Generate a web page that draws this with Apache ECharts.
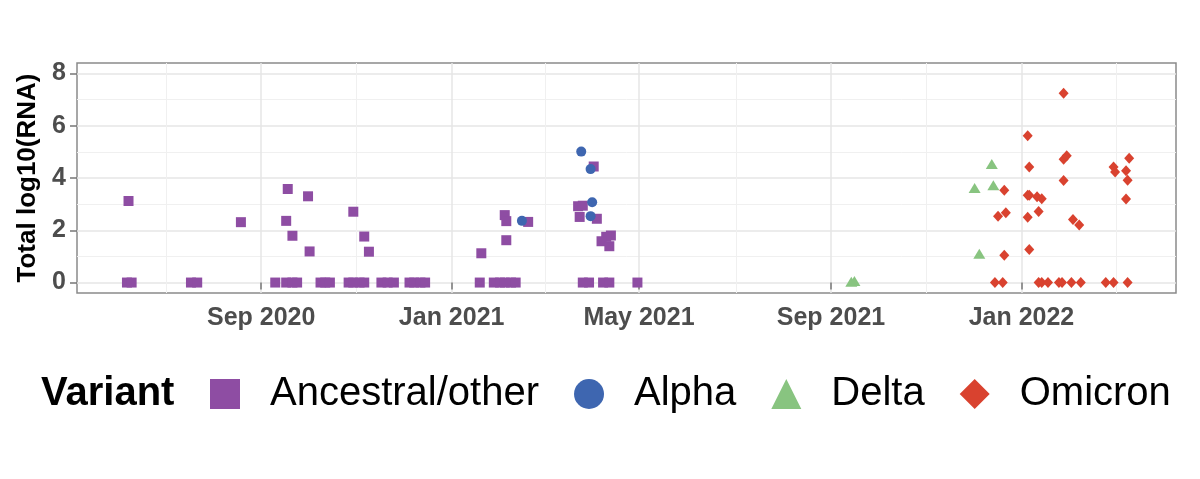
<!DOCTYPE html>
<html lang="en">

<head>
    <meta charset="UTF-8">
    <title>Total log10(RNA) by variant</title>
    <script src="https://cdn.jsdelivr.net/npm/echarts@6/dist/echarts.min.js"></script>
    <style>
        html, body { margin: 0; padding: 0; background: #fff; }
        #main { width: 1200px; height: 479px; }
    </style>
</head>

<body>
    <div id="main"></div>
    <script>
        // axis breaks (ggplot style: major + midpoint minor lines)
        const tickDates = ['2020-09-01', '2021-01-01', '2021-05-01', '2021-09-01', '2022-01-01'];
        const tickLabels = ['Sep 2020', 'Jan 2021', 'May 2021', 'Sep 2021', 'Jan 2022'];
        const minorDates = ['2020-07-02', '2020-11-01', '2021-03-02', '2021-07-02', '2021-11-01', '2022-03-03'];
        const xRange = ['2020-05-06', '2022-04-10'];
        const yTicks = [0, 2, 4, 6, 8];
        const yMinor = [1, 3, 5, 7];

        // Ancestral/other
        const ancestralDates = [
            '2020-06-07', '2020-06-10', '2020-07-18', '2020-07-22', '2020-09-10', '2020-09-17', '2020-09-21',
            '2020-09-24', '2020-10-09', '2020-10-12', '2020-10-15', '2020-10-27', '2020-10-30', '2020-11-03',
            '2020-11-06', '2020-11-17', '2020-11-21', '2020-11-25', '2020-12-05', '2020-12-08', '2020-12-12',
            '2020-12-15', '2021-01-19', '2021-01-28', '2021-02-01', '2021-02-04', '2021-02-08', '2021-02-11',
            '2021-03-26', '2021-03-30', '2021-04-08', '2021-04-12', '2021-04-30',
            '2020-06-08', '2020-08-19', '2020-09-18', '2020-09-17', '2020-09-21', '2020-10-01', '2020-10-02',
            '2020-10-30', '2020-11-06', '2020-11-09', '2021-01-20', '2021-02-04', '2021-02-05', '2021-02-05',
            '2021-02-19', '2021-03-23', '2021-03-26', '2021-03-24', '2021-04-02', '2021-04-04', '2021-04-13',
            '2021-04-10', '2021-04-07', '2021-04-12'
        ];
        const ancestralValues = [
            0, 0, 0, 0, 0, 0, 0,
            0, 0, 0, 0, 0, 0, 0,
            0, 0, 0, 0, 0, 0, 0,
            0, 0, 0, 0, 0, 0, 0,
            0, 0, 0, 0, 0,
            3.12, 2.31, 3.58, 2.36, 1.79, 3.30, 1.19,
            2.71, 1.76, 1.18, 1.12, 2.58, 2.35, 1.62,
            2.32, 2.92, 2.94, 2.51, 4.44, 2.44, 1.80,
            1.75, 1.58, 1.39
        ];

        // Alpha
        const alphaDates = ['2021-02-15', '2021-03-25', '2021-03-31', '2021-04-01', '2021-03-31'];
        const alphaValues = [2.36, 5.01, 4.34, 3.07, 2.54];

        // Delta
        const deltaDates = ['2021-09-14', '2021-09-16', '2021-12-02', '2021-12-05', '2021-12-13', '2021-12-14'];
        const deltaValues = [0.03, 0.06, 3.62, 1.10, 4.54, 3.72];

        // Omicron
        const omicronDates = [
            '2021-12-15', '2021-12-20', '2022-01-12', '2022-01-14', '2022-01-18', '2022-01-25', '2022-01-27',
            '2022-02-02', '2022-02-08', '2022-02-24', '2022-03-01', '2022-03-10',
            '2021-12-17', '2021-12-21', '2021-12-22', '2021-12-21', '2022-01-05', '2022-01-06', '2022-01-05',
            '2022-01-06', '2022-01-11', '2022-01-14', '2022-01-05', '2022-01-12', '2022-01-06', '2022-01-28',
            '2022-01-28', '2022-01-30', '2022-01-28', '2022-02-03', '2022-02-07', '2022-03-01', '2022-03-02',
            '2022-03-11', '2022-03-09', '2022-03-10', '2022-03-09'
        ];
        const omicronValues = [
            0, 0, 0, 0, 0, 0, 0,
            0, 0, 0, 0, 0,
            2.54, 3.53, 2.67, 1.04, 5.62, 4.42, 3.34,
            3.34, 3.28, 3.21, 2.50, 2.72, 1.26, 7.24,
            4.72, 4.85, 3.90, 2.41, 2.20, 4.42, 4.23,
            4.76, 4.28, 3.91, 3.20
        ];

        const FONT = 'Liberation Sans';
        // dates -> ms timestamps, the x axis is a plain value axis over time
        const ts = d => Date.parse(d + 'T00:00:00Z');
        const pairs = (dates, values) => dates.map((d, i) => [ts(d), values[i]]);
        const tickTimes = tickDates.map(ts);
        const minorTimes = minorDates.map(ts);
        const xMin = ts(xRange[0]);
        const xMax = ts(xRange[1]);

        const chart = echarts.init(document.getElementById('main'));

        const option = {
            animation: false,
            backgroundColor: '#fff',
            title: {
                text: 'Variant',
                left: 41,
                top: 374,
                padding: 0,
                textStyle: { fontFamily: FONT, fontSize: 40, fontWeight: 'bold', color: '#000', lineHeight: 40 }
            },
            legend: {
                left: 210,
                top: 374,
                padding: 0,
                itemWidth: 30,
                itemHeight: 30,
                itemGap: 35,
                textStyle: {
                    fontFamily: FONT,
                    fontSize: 40,
                    lineHeight: 40,
                    color: '#000',
                    padding: [0, 0, 0, 25]
                },
                data: [
                    { name: 'Ancestral/other', icon: 'rect' },
                    { name: 'Alpha', icon: 'circle' },
                    { name: 'Delta', icon: 'triangle' },
                    { name: 'Omicron', icon: 'diamond' }
                ]
            },
            grid: {
                left: 77,
                right: 24,
                top: 63,
                bottom: 186,
                show: true,
                borderColor: '#8a8a8a',
                borderWidth: 1.5
            },
            xAxis: [{
                type: 'value',
                min: xMin,
                max: xMax,
                axisLine: { show: false },
                axisTick: {
                    show: true,
                    customValues: tickTimes,
                    length: 7,
                    lineStyle: { color: '#777', width: 1.5 }
                },
                axisLabel: {
                    customValues: tickTimes,
                    margin: 13,
                    fontFamily: FONT,
                    fontSize: 25,
                    fontWeight: 'bold',
                    color: '#4d4d4d',
                    formatter: function (v) {
                        const i = tickTimes.findIndex(t => Math.abs(t - v) < 43200000);
                        return i >= 0 ? tickLabels[i] : '';
                    }
                },
                splitLine: { show: true, lineStyle: { color: '#e6e6e6', width: 1.5 } }
            }, {
                type: 'value',
                position: 'top',
                min: xMin,
                max: xMax,
                axisLine: { show: false },
                axisTick: { show: false, customValues: minorTimes },
                axisLabel: { show: false, customValues: minorTimes },
                splitLine: { show: true, lineStyle: { color: '#f0f0f0', width: 1 } }
            }],
            yAxis: [{
                type: 'value',
                min: -0.4,
                max: 8.4,
                name: 'Total log10(RNA)',
                nameLocation: 'middle',
                nameGap: 31,
                nameTextStyle: { fontFamily: FONT, fontSize: 26, fontWeight: 'bold', color: '#000' },
                axisLine: { show: false },
                axisTick: {
                    show: true,
                    customValues: yTicks,
                    length: 7,
                    lineStyle: { color: '#777', width: 1.5 }
                },
                axisLabel: {
                    customValues: yTicks,
                    margin: 11,
                    fontFamily: FONT,
                    fontSize: 25,
                    fontWeight: 'bold',
                    color: '#4d4d4d'
                },
                splitLine: { show: true, lineStyle: { color: '#e6e6e6', width: 1.5 } }
            }, {
                type: 'value',
                position: 'right',
                min: -0.4,
                max: 8.4,
                axisLine: { show: false },
                axisTick: { show: false, customValues: yMinor },
                axisLabel: { show: false, customValues: yMinor },
                splitLine: { show: true, lineStyle: { color: '#f0f0f0', width: 1 } }
            }],
            series: [{
                name: 'Ancestral/other',
                type: 'scatter',
                symbol: 'rect',
                symbolSize: 10,
                itemStyle: { color: '#8e4da3', opacity: 1 },
                data: pairs(ancestralDates, ancestralValues)
            }, {
                name: 'Alpha',
                type: 'scatter',
                symbol: 'circle',
                symbolSize: 10,
                itemStyle: { color: '#3e66b0', opacity: 1 },
                data: pairs(alphaDates, alphaValues)
            }, {
                name: 'Delta',
                type: 'scatter',
                symbol: 'triangle',
                symbolSize: [12, 10],
                itemStyle: { color: '#88c480', opacity: 1 },
                data: pairs(deltaDates, deltaValues)
            }, {
                name: 'Omicron',
                type: 'scatter',
                symbol: 'diamond',
                symbolSize: [10, 11],
                itemStyle: { color: '#d9422f', opacity: 1 },
                data: pairs(omicronDates, omicronValues)
            }]
        };

        chart.setOption(option);
    </script>
</body>

</html>
